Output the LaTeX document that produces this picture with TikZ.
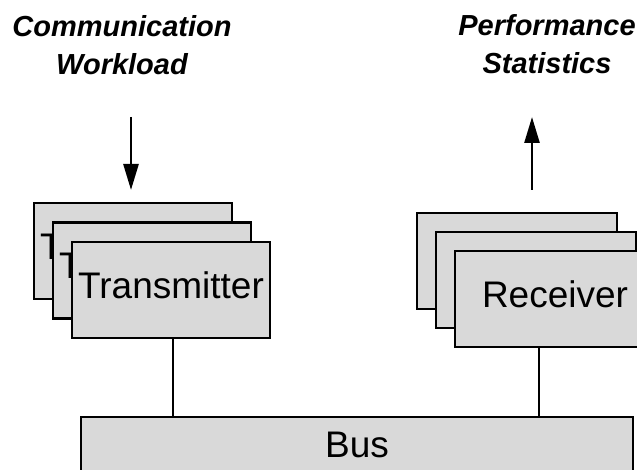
\documentclass[tikz,border=0pt]{standalone}
\usepackage{fontspec}
\setmainfont{Liberation Sans}
\usepackage{tikz}
\usetikzlibrary{positioning,arrows.meta}
\definecolor{boxgray}{RGB}{217,217,217}
\tikzstyle{arrow} = [line width=1.3pt,-{Triangle[length=13pt,width=7.5pt]}]

\begin{document}
\begin{tikzpicture} [
    x=0.5pt, y=-0.5pt,
    box/.style={rectangle,draw,line width=1.3pt,fill=boxgray,minimum width=99pt,minimum height=48pt,inner sep=0pt,text depth=5pt,font=\fontsize{18.5}{21}\selectfont},
    bus/.style={box,minimum width=276pt,minimum height=27.5pt,text depth=0pt},
    lbl/.style={align=center,font=\fontsize{14.5}{19}\selectfont\bfseries\itshape},
    link/.style={line width=1.3pt},
    ]
    \useasboundingbox (0,0) rectangle (637,470);
    \clip (0,0) rectangle (637,470);

    \node [lbl] (CW) at (122,45) {Communication\\Workload};
    \node [lbl] (PS) at (547,44) {Performance\\Statistics};

    % transmitter stack, back to front
    \node [box] (T1) at (133,251) {Transmitter};
    \path (T1) ++(19,19.5) node [box] (T2) {Transmitter};
    \path (T2) ++(19,19.5) node [box] (T3) {Transmitter};

    % receiver stack
    \node [box,minimum width=100pt] (R1) at (517,261) {Receiver};
    \path (R1) ++(19,19) node [box,minimum width=100pt] (R2) {Receiver};
    \path (R2) ++(19,19) node [box,minimum width=100pt] (R3) {Receiver};

    \node [bus] (Bus) at (357,444.5) {Bus};

    \coordinate (inTop) at (131,117);
    \coordinate (inEnd) at (131,190);
    \coordinate (outBot) at (532,190);
    \coordinate (outTop) at (532,117);

    \draw[arrow] (inTop) -- (inEnd);
    \draw[arrow] (outBot) -- (outTop);
    \draw[link] ([xshift=1pt]T3.south) -- ([xshift=1pt]T3.south |- Bus.north);
    \draw[link] ([xshift=-8pt]R3.south) -- ([xshift=-8pt]R3.south |- Bus.north);
\end{tikzpicture}
\end{document}
